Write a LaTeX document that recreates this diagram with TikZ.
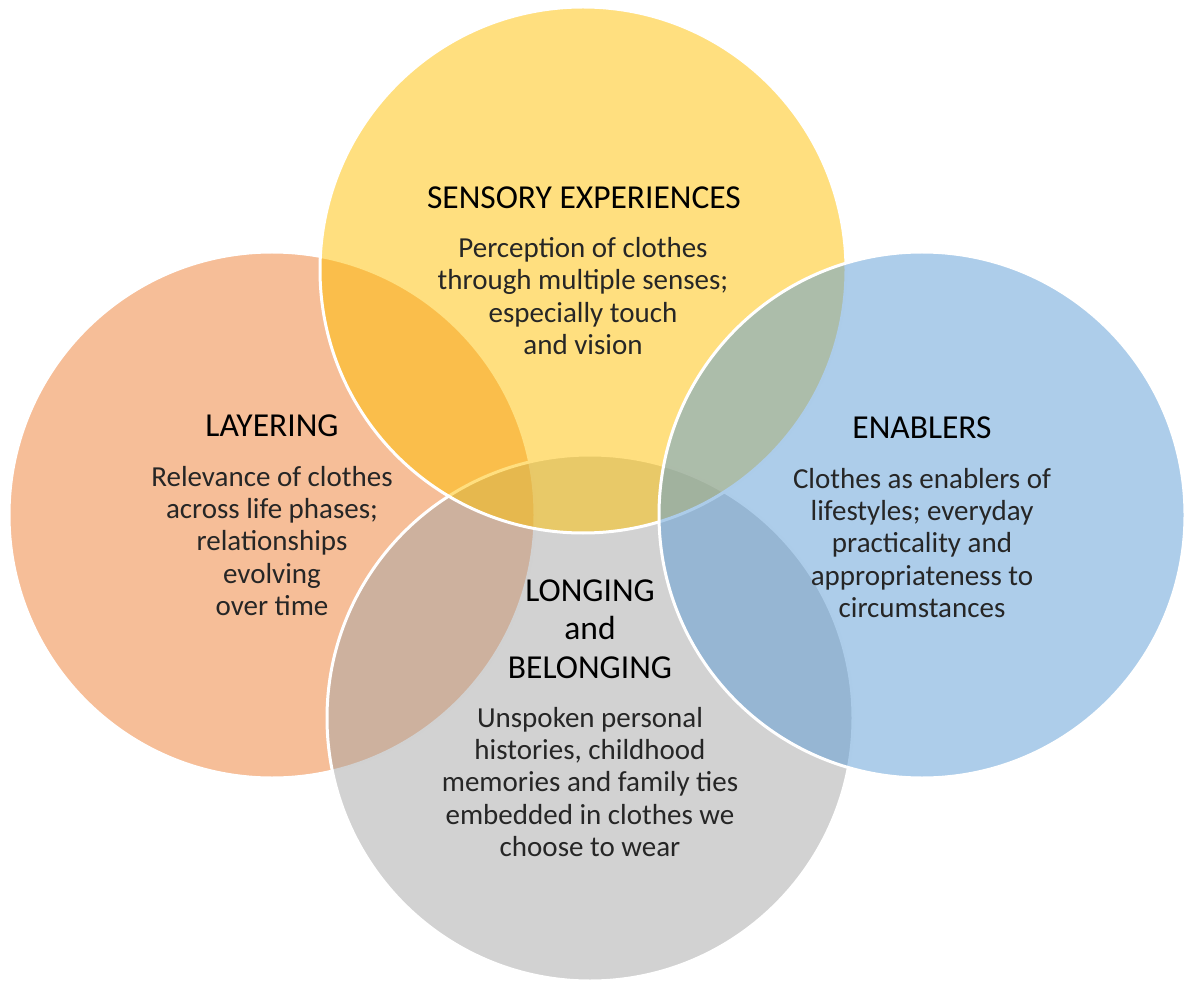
\documentclass[tikz,border=0pt]{standalone}
\usepackage{fontspec}
\setmainfont{Carlito}
\definecolor{cOrange}{HTML}{ED7D31}
\definecolor{cGold}{HTML}{FFC000}
\definecolor{cBlue}{HTML}{5B9BD5}
\definecolor{cGrey}{HTML}{A5A5A5}

\begin{document}
\begin{tikzpicture}[x=1pt,y=-1pt]
                        \tikzstyle{ring}=[circle, minimum size=526pt, draw=white, line width=3pt, fill opacity=0.5, inner sep=0pt]
                        \tikzstyle{head}=[align=center, font=\fontsize{33.5}{38.5}\selectfont]
                        \tikzstyle{body}=[align=center, font=\fontsize{29}{32.3}\selectfont, text=black!85]
                        \useasboundingbox (0,0) rectangle (1189,981);
                        % circles, back to front
                        \node[ring, fill=cOrange] (layer) at (272,515) {};
                        \node[ring, fill=cGrey] (long) at (590,718) {};
                        \node[ring, fill=cGold] (sense) at (583,270) {};
                        \node[ring, fill=cBlue] (enable) at (922,515) {};
                        % titles
                        \node[head] (senseT) at (584,198) {SENSORY EXPERIENCES};
                        \node[head] (layerT) at (272,426) {LAYERING};
                        \node[head] (enableT) at (922,428) {ENABLERS};
                        \node[head] (longT) at (590,629) {LONGING\\and\\BELONGING};
                        % texts
                        \node[body] (senseB) at (583,296) {Perception of clothes\\through multiple senses;\\especially touch\\and vision};
                        \node[body] (layerB) at (272,541) {Relevance of clothes\\across life phases;\\relationships\\evolving\\over time};
                        \node[body] (enableB) at (922,543) {Clothes as enablers of\\lifestyles; everyday\\practicality and\\appropriateness to\\circumstances};
                        \node[body] (longB) at (590,782) {Unspoken personal\\histories, childhood\\memories and family ties\\embedded in clothes we\\choose to wear};
                    \end{tikzpicture}
\end{document}
